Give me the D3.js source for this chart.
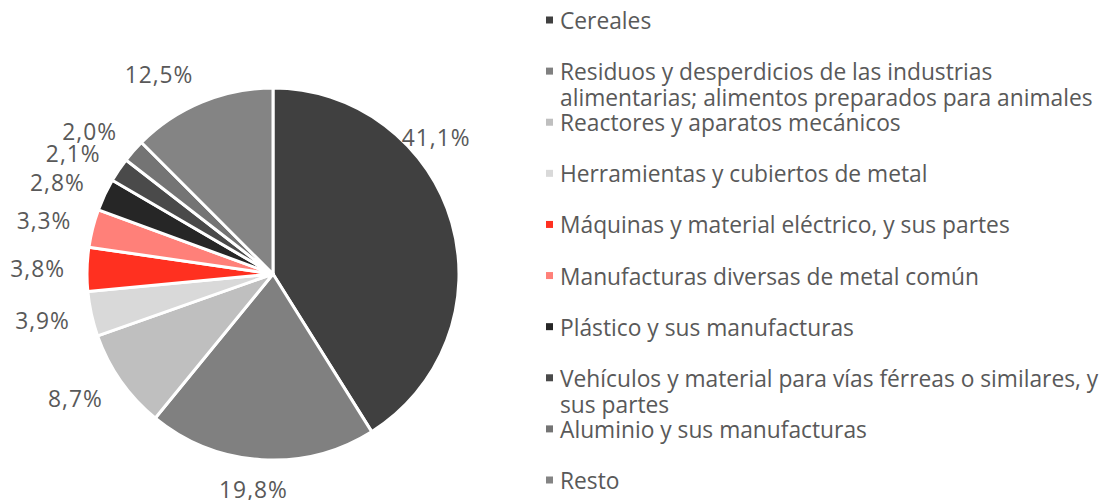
<!DOCTYPE html>
<html><head><meta charset="utf-8">
<script src="https://cdn.jsdelivr.net/npm/d3@7"></script>
<style>body{margin:0;background:#fff}svg{display:block}</style>
</head><body>
<svg id="c" width="1101" height="500"></svg>
<script>
const categories = [
  "Cereales",
  "Residuos y desperdicios de las industrias alimentarias; alimentos preparados para animales",
  "Reactores y aparatos mecánicos",
  "Herramientas y cubiertos de metal",
  "Máquinas y material eléctrico, y sus partes",
  "Manufacturas diversas de metal común",
  "Plástico y sus manufacturas",
  "Vehículos y material para vías férreas o similares, y sus partes",
  "Aluminio y sus manufacturas",
  "Resto"
];
const values = [41.1, 19.8, 8.7, 3.9, 3.8, 3.3, 2.8, 2.1, 2.0, 12.5];
const valueLabels = ["41,1%","19,8%","8,7%","3,9%","3,8%","3,3%","2,8%","2,1%","2,0%","12,5%"];
const colors = ["#404040","#808080","#bfbfbf","#d9d9d9","#ff3020","#ff8079","#262626","#4a4a4a","#747474","#848484"];

const svg = d3.select("#c");
const FONT = "'Open Sans', sans-serif";
const textColor = "#595959";

// fit font size so the reference line width matches
const probe = svg.append("text").attr("font-family", FONT).attr("font-size", 20)
  .text("alimentarias; alimentos preparados para animales");
const w20 = probe.node().getComputedTextLength();
probe.remove();
const fs = 20 * 533 / w20;

const cx = 273, cy = 274, R = 186;
const pie = d3.pie().sort(null).value(d => d)(values);
const arc = d3.arc().innerRadius(0).outerRadius(R);
const g = svg.append("g").attr("transform", `translate(${cx},${cy})`);
g.selectAll("path").data(pie).join("path")
  .attr("d", arc).attr("fill", (d,i) => colors[i])
  .attr("stroke", "#fff").attr("stroke-width", 3).attr("stroke-linejoin", "round");

// labels: anchor at R + gap along mid-angle, box shifted outward
const gap = 22;
const lbl = g.selectAll("text.lbl").data(pie).join("text").attr("class","lbl")
  .attr("font-family", FONT).attr("font-size", fs).attr("fill", textColor)
  .attr("letter-spacing", 1)
  .attr("text-anchor","middle").attr("dominant-baseline","central")
  .text((d,i) => valueLabels[i]);
lbl.each(function(d,i){
  const el = d3.select(this);
  const w = this.getComputedTextLength();
  let a = (d.startAngle + d.endAngle)/2;
  let x, y;
  if (i === 0) { // best-fit placement for the largest slice
    a = 50 * Math.PI/180; const r = 213;
    x = r*Math.sin(a); y = -r*Math.cos(a);
  } else {
    const s = Math.sin(a), c = -Math.cos(a);
    const r = R + gap;
    x = r*s + Math.max(-1, Math.min(1, s*3)) * w/2;
    y = r*c + c*8;
  }
  el.attr("x", x).attr("y", y);
});

// legend
const ly = d3.scalePoint().domain(d3.range(categories.length)).range([20, 480]);
const maxW = 540;
const leg = svg.append("g");
categories.forEach((name, i) => {
  const y0 = ly(i);
  leg.append("rect").attr("x", 546).attr("y", y0 - 3.5).attr("width", 7).attr("height", 7)
    .attr("fill", colors[i]);
  const t = leg.append("text").attr("font-family", FONT).attr("font-size", fs)
    .attr("fill", textColor).attr("dominant-baseline","central");
  const words = name.split(" ");
  let line = [], lineNo = 0;
  let ts = t.append("tspan").attr("x", 560).attr("y", y0);
  words.forEach(wd => {
    line.push(wd);
    ts.text(line.join(" "));
    if (ts.node().getComputedTextLength() > maxW && line.length > 1) {
      line.pop(); ts.text(line.join(" "));
      line = [wd]; lineNo++;
      ts = t.append("tspan").attr("x", 560).attr("y", y0 + lineNo*26).text(wd);
    }
  });
});
</script>
</body></html>
